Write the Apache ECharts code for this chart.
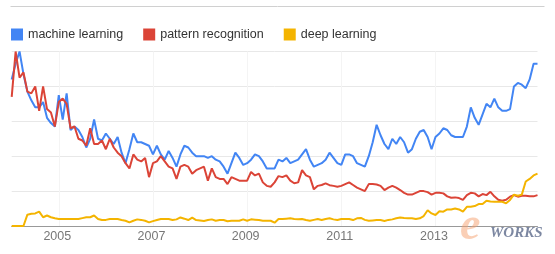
<!DOCTYPE html>
<html>
<head>
<meta charset="utf-8">
<script src="https://cdn.jsdelivr.net/npm/echarts@6/dist/echarts.min.js"></script>
<style>
html,body{margin:0;padding:0;background:#fff;}
#chart{width:555px;height:254px;}
</style>
</head>
<body>
<div id="chart"></div>
<script>
// Monthly Google Trends interest, Jan 2004 .. Mar 2015
var startYear = 2004;
var seriesNames = ['machine learning', 'pattern recognition', 'deep learning'];
var yearLabels = ['2005', '2007', '2009', '2011', '2013'];

var machineLearning = [84,93,100,87,77,72,68,68,71,
  62,59,57,75,61,76,55,57,55,51,45,50,61,50,49,53,
  50,47,51,42,36,44,53,48,48,47,46,41,46,41,38,43,39,34,
  41,46,45,42,40,40,40,39,40,38,37,34,30,36,42,
  39,35,36,38,41,40,37,33,33,33,38,37,39,36,37,38,41,44,38,
  34,35,36,38,42,39,36,35,41,41,40,36,35,34,
  40,48,58,52,47,44,50,47,51,48,42,44,50,54,55,51,44,
  51,53,56,55,52,51,51,51,57,68,62,58,64,70,68,73,68,
  66,66,67,80,82,81,79,84,93,93];

var patternRecognition = [74,100,85,88,77,76,80,66,80,67,
  65,57,71,73,70,56,57,50,49,46,56,47,47,49,44,
  50,45,42,40,36,33,41,38,37,39,28,36,37,40,37,34,33,
  27,34,35,34,30,32,33,34,26,33,28,27,27,24,28,27,
  26,26,26,31,29,30,25,23,22.5,25,28.6,28,29,26,24.5,25,32,29,28,21,
  23,23.5,24.4,23.4,23,22.5,23,24,25,23.5,22,21,20,
  24,24,23.8,23,20.6,22,23,22,20.6,19,18,18,19,20,20,19.4,18,
  19,19,18.7,17,16.2,16.4,16,15,17.7,19,18.7,17,18.3,17.7,19.6,17,15,
  14.5,15,16.8,17.7,16.8,17.3,17.3,17,17,17.7];

var deepLearning = [0,0,0,0,6.5,7,7.2,8.2,5,
  6,5,4.4,4,4,4,4,4,4,4.5,5,5,6,4,3.4,3.5,
  4,4,4,3.4,3,2.1,3,3.8,3.5,3,2.1,2.8,3.4,4,4,4,3.4,
  3.8,4.9,4.2,3.4,4.8,3.4,3.2,2.9,3.4,3.8,3,3.4,3.4,2.7,3,3,
  3,3.8,3,3.8,3.6,3.4,3,3,3,1.9,4,4,4.2,4.4,4,3.8,4,
  3.4,3,3.5,4,3.4,4,4.4,3.8,3.4,4,4,4,3.4,4.4,4.6,3.5,
  3,3.2,3.4,3.4,2.9,3.5,3.8,4.4,4.9,4.6,4.4,4.4,4,4.4,5.7,9,7.2,
  6.3,8.5,8.2,9.5,9.5,10,9.5,8.2,11,11,11.4,12.6,12.6,14.5,14,13.9,13.9,
  13.9,13,14.9,18,17.3,18,25.5,27,29,30];

// month categories
var months = [];
for (var k = 0; k < machineLearning.length; k++) {
  var y = startYear + Math.floor(k / 12);
  var m = (k % 12) + 1;
  months.push(y + '-' + (m < 10 ? '0' + m : m));
}
function isLabelMonth(idx) {
  var v = months[idx];
  return v.slice(5) === '01' && yearLabels.indexOf(v.slice(0, 4)) >= 0;
}

var colors = ['#4285f4', '#db4437', '#f4b400'];
var font = '"Liberation Sans", Arial, sans-serif';

var chart = echarts.init(document.getElementById('chart'), null, {renderer: 'canvas'});
chart.setOption({
  animation: false,
  color: colors,
  legend: {
    left: 6, top: 23,
    icon: 'rect', itemWidth: 12, itemHeight: 12, itemGap: 20,
    textStyle: {fontFamily: font, fontSize: 12.5, color: '#333'},
    data: seriesNames
  },
  grid: {left: 11.7, right: 17.5, top: 51.5, bottom: 28},
  xAxis: {
    type: 'category',
    boundaryGap: false,
    data: months,
    axisLine: {show: true, lineStyle: {color: '#999', width: 1}},
    axisTick: {show: false},
    axisLabel: {
      interval: function (idx) { return isLabelMonth(idx); },
      formatter: function (v) { return v.slice(0, 4); },
      fontFamily: font, fontSize: 12.5, color: '#777', margin: 4,
      padding: [0, 3, 0, 0]
    },
    splitLine: {
      show: true,
      interval: function (idx) { return isLabelMonth(idx); },
      lineStyle: {color: '#f4f4f4', width: 1}
    }
  },
  yAxis: {
    type: 'value', min: 0, max: 100, interval: 20,
    axisLine: {show: false}, axisTick: {show: false}, axisLabel: {show: false},
    splitLine: {lineStyle: {color: '#e8e8e8', width: 1}}
  },
  series: [
    {name: seriesNames[0], type: 'line', data: machineLearning, symbol: 'none', lineStyle: {width: 2}},
    {name: seriesNames[1], type: 'line', data: patternRecognition, symbol: 'none', lineStyle: {width: 2}},
    {name: seriesNames[2], type: 'line', data: deepLearning, symbol: 'none', lineStyle: {width: 2}}
  ],
  graphic: [
    {type: 'line', shape: {x1: 10.5, y1: 6.5, x2: 544.5, y2: 6.5}, style: {stroke: '#d0d0d0', lineWidth: 1}},
    {type: 'text', left: 460, top: 204, z: 100,
     style: {text: 'e', font: 'italic bold 46px "Liberation Serif", serif', fill: 'rgba(245,160,110,0.5)'}},
    {type: 'text', left: 490, top: 226, z: 100,
     style: {text: 'WORKS', font: 'italic bold 15px "Liberation Serif", serif', fill: 'rgba(80,95,130,0.75)'}}
  ]
});
</script>
</body>
</html>
